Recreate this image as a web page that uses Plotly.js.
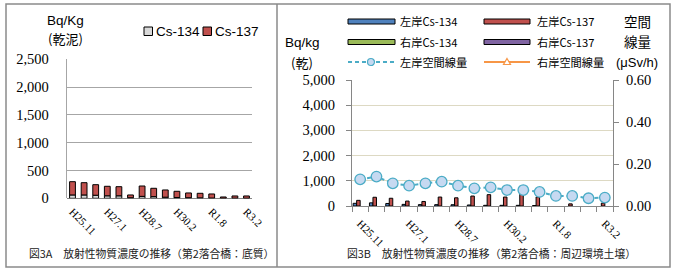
<!DOCTYPE html>
<html>
<head>
<meta charset="utf-8">
<script src="https://cdn.plot.ly/plotly-3.0.1.min.js"></script>
<style>html,body{margin:0;padding:0;background:#fff;}#chart{width:674px;height:270px;}</style>
</head>
<body>
<div id="chart"></div>
<script>
// ---- data ----
const tickIdx = [0, 3, 6, 9, 12, 15];
const tickLabels = ['H25.11', 'H27.1', 'H28.7', 'H30.2', 'R1.8', 'R3.2'];

// Fig 3A (sediment)  Bq/Kg
const sedCs134 = [60, 60, 55, 45, 45, 10, 35, 30, 20, 15, 10, 8, 5, 3, 3, 2];
const sedCs137 = [239, 221, 190, 171, 164, 50, 186, 150, 130, 111, 86, 82, 73, 21, 39, 40];

// Fig 3B (surrounding soil)  Bq/kg
const leftCs134 = [107, 125, 100, 65, 55, 53, 50, 40, 27, 27, 27, 20, null, null, null, null];
const leftCs137 = [225, 347, 307, 195, 180, 355, 325, 395, 450, 355, 470, 360, null, 85, null, 115];
const rightCs134 = [null, null, null, null, null, null, null, null, null, null, null, null, null, null, null, null];
const rightCs137 = [null, null, null, null, null, null, null, null, null, null, null, null, null, null, null, null];
// air dose rate  uSv/h
const leftDose = [0.127, 0.140, 0.108, 0.097, 0.108, 0.116, 0.097, 0.084, 0.089, 0.076, 0.076, 0.067, 0.048, 0.048, 0.037, 0.040];
const rightDose = [null, null, null, null, null, null, null, null, null, null, null, null, null, null, null, null];

// ---- helpers ----
const W = 674, H = 270;
const px = x => x / W;
const py = y => 1 - y / H;
const xs = sedCs134.map((_, i) => i);

const SERIF = '"Liberation Serif", "DejaVu Serif", serif';
const SANS = '"Liberation Sans", Arial, sans-serif';
const CJK = '"Noto Sans CJK JP", "Noto Sans", sans-serif';

const cBlue = '#4f81bd', cRed = '#c0504d', cGreen = '#9bbb59', cPurple = '#8064a2';
const cDose = '#4bacc6', cDoseFill = '#c6d9f1', cOrange = '#f79646';

const traces = [
  // left chart (stacked via base)
  {type: 'bar', x: xs, y: sedCs134, name: 'Cs-134', xaxis: 'x', yaxis: 'y', offsetgroup: 'sed',
   width: 0.5, offset: -0.25, marker: {color: '#d9d9d9', line: {color: '#000', width: 1}}, showlegend: false},
  {type: 'bar', x: xs, y: sedCs137, base: sedCs134, name: 'Cs-137', xaxis: 'x', yaxis: 'y', offsetgroup: 'sed',
   width: 0.5, offset: -0.25, marker: {color: cRed, line: {color: '#000', width: 1}}, showlegend: false},
  // right chart grouped bars
  {type: 'bar', x: xs, y: leftCs134, name: '左岸Cs-134', xaxis: 'x2', yaxis: 'y2',
   marker: {color: cBlue, line: {color: '#000', width: 1}}, showlegend: false},
  {type: 'bar', x: xs, y: leftCs137, name: '左岸Cs-137', xaxis: 'x2', yaxis: 'y2',
   marker: {color: cRed, line: {color: '#000', width: 1}}, showlegend: false},
  {type: 'bar', x: xs, y: rightCs134, name: '右岸Cs-134', xaxis: 'x2', yaxis: 'y2',
   marker: {color: cGreen, line: {color: '#000', width: 1}}, showlegend: false},
  {type: 'bar', x: xs, y: rightCs137, name: '右岸Cs-137', xaxis: 'x2', yaxis: 'y2',
   marker: {color: cPurple, line: {color: '#000', width: 1}}, showlegend: false},
  {type: 'scatter', mode: 'lines+markers', x: xs, y: leftDose, name: '左岸空間線量', xaxis: 'x2', yaxis: 'y3',
   line: {color: cDose, width: 2, dash: '4px,3px'},
   marker: {symbol: 'circle', size: 10.5, color: cDoseFill, line: {color: cDose, width: 1.3}}, showlegend: false},
  {type: 'scatter', mode: 'lines+markers', x: xs, y: rightDose, name: '右岸空間線量', xaxis: 'x2', yaxis: 'y3',
   line: {color: cOrange, width: 2},
   marker: {symbol: 'triangle-up', size: 7, color: '#fff', line: {color: cOrange, width: 1.3}}, showlegend: false}
];

const shapes = [
  {type: 'rect', xref: 'paper', yref: 'paper', x0: px(6), x1: px(670), y0: py(267), y1: py(4),
   line: {color: '#8a8a8a', width: 1.5}},
  {type: 'line', xref: 'paper', yref: 'paper', x0: px(277), x1: px(277), y0: py(267), y1: py(4),
   line: {color: '#8a8a8a', width: 1.5}},
  // left legend boxes
  {type: 'rect', xref: 'paper', yref: 'paper', x0: px(144), x1: px(152.5), y0: py(35.5), y1: py(27),
   fillcolor: '#d9d9d9', line: {color: '#000', width: 1}},
  {type: 'rect', xref: 'paper', yref: 'paper', x0: px(203), x1: px(211.5), y0: py(35.5), y1: py(27),
   fillcolor: cRed, line: {color: '#000', width: 1}},
  // right legend boxes
  {type: 'rect', xref: 'paper', yref: 'paper', x0: px(348), x1: px(395), y0: py(24), y1: py(19),
   fillcolor: cBlue, line: {color: '#000', width: 1}},
  {type: 'rect', xref: 'paper', yref: 'paper', x0: px(484), x1: px(530), y0: py(24), y1: py(19),
   fillcolor: cRed, line: {color: '#000', width: 1}},
  {type: 'rect', xref: 'paper', yref: 'paper', x0: px(348), x1: px(395), y0: py(44.5), y1: py(39.5),
   fillcolor: cGreen, line: {color: '#000', width: 1}},
  {type: 'rect', xref: 'paper', yref: 'paper', x0: px(484), x1: px(530), y0: py(44.5), y1: py(39.5),
   fillcolor: cPurple, line: {color: '#000', width: 1}},
  {type: 'line', xref: 'paper', yref: 'paper', x0: px(348), x1: px(395), y0: py(62), y1: py(62),
   line: {color: cDose, width: 2, dash: '4px,3px'}},
  {type: 'circle', xref: 'paper', yref: 'paper', x0: px(367.5), x1: px(374.5), y0: py(65.5), y1: py(58.5),
   fillcolor: cDoseFill, line: {color: cDose, width: 1.2}},
  {type: 'line', xref: 'paper', yref: 'paper', x0: px(484), x1: px(530), y0: py(62), y1: py(62),
   line: {color: cOrange, width: 2}},
  {type: 'path', xref: 'paper', yref: 'paper',
   path: 'M' + px(507) + ',' + py(58.5) + ' L' + px(510.5) + ',' + py(64.5) + ' L' + px(503.5) + ',' + py(64.5) + ' Z',
   fillcolor: '#fff', line: {color: cOrange, width: 1.2}}
];

function ann(text, x, y, opts) {
  return Object.assign({text: text, xref: 'paper', yref: 'paper', x: px(x), y: py(y), showarrow: false,
    xanchor: 'center', yanchor: 'middle', font: {family: SANS, size: 13, color: '#000'}}, opts || {});
}

const annotations = [
  ann('Bq/Kg', 65, 21, {font: {family: SANS, size: 13.5, color: '#000'}}),
  ann('(乾泥)', 65, 39, {font: {family: CJK, size: 13, color: '#000'}}),
  ann('Cs-134', 154, 31, {xanchor: 'left', font: {family: SANS, size: 13.5, color: '#000'}}),
  ann('Cs-137', 213, 31, {xanchor: 'left', font: {family: SANS, size: 13.5, color: '#000'}}),
  ann('図3A　放射性物質濃度の推移（第2落合橋：底質）', 151, 253, {font: {family: CJK, size: 10.8, color: '#222'}}),

  ann('Bq/kg', 302, 42, {font: {family: SANS, size: 13.5, color: '#000'}}),
  ann('(乾)', 302, 62, {font: {family: CJK, size: 13, color: '#000'}}),
  ann('空間', 637, 21, {font: {family: CJK, size: 13.5, color: '#000'}}),
  ann('線量', 637, 41, {font: {family: CJK, size: 13.5, color: '#000'}}),
  ann('(μSv/h)', 637, 62, {font: {family: SANS, size: 13, color: '#000'}}),
  ann('左岸Cs-134', 398, 21.5, {xanchor: 'left', font: {family: CJK, size: 11.2, color: '#000'}}),
  ann('左岸Cs-137', 535, 21.5, {xanchor: 'left', font: {family: CJK, size: 11.2, color: '#000'}}),
  ann('右岸Cs-134', 398, 42, {xanchor: 'left', font: {family: CJK, size: 11.2, color: '#000'}}),
  ann('右岸Cs-137', 535, 42, {xanchor: 'left', font: {family: CJK, size: 11.2, color: '#000'}}),
  ann('左岸空間線量', 398, 62, {xanchor: 'left', font: {family: CJK, size: 11.2, color: '#000'}}),
  ann('右岸空間線量', 535, 62, {xanchor: 'left', font: {family: CJK, size: 11.2, color: '#000'}}),
  ann('図3B　放射性物質濃度の推移（第2落合橋：周辺環境土壌）', 491, 253, {font: {family: CJK, size: 10.8, color: '#222'}})
];

const layout = {
  width: W, height: H,
  margin: {l: 0, r: 0, t: 0, b: 0},
  paper_bgcolor: '#fff', plot_bgcolor: 'rgba(0,0,0,0)',
  showlegend: false,
  barmode: 'group', bargap: 0.14, bargroupgap: 0,
  xaxis: {domain: [px(66.7), px(252.3)], anchor: 'y', range: [-0.5, 15.5],
    tickmode: 'array', tickvals: tickIdx, ticktext: tickLabels, tickangle: 45,
    tickfont: {family: SERIF, size: 11, color: '#000'}, showgrid: false, zeroline: false,
    showline: false, ticks: '', ticklabelstandoff: 4, fixedrange: true},
  yaxis: {domain: [py(198.3), py(59.3)], anchor: 'x', range: [0, 2500], dtick: 500, tickformat: ',d',
    tickfont: {family: SERIF, size: 14.5, color: '#000'}, gridcolor: '#a6a6a6', gridwidth: 1,
    showline: true, linecolor: '#a6a6a6', linewidth: 1, zeroline: true, zerolinecolor: '#868686', zerolinewidth: 1.2,
    ticks: '', ticklabelstandoff: 14},
  xaxis2: {domain: [px(352), px(613)], anchor: 'y2', range: [-0.5, 15.5],
    tickmode: 'array', tickvals: tickIdx, ticktext: tickLabels, tickangle: 45,
    tickfont: {family: SERIF, size: 11, color: '#000'}, showgrid: false, zeroline: false,
    showline: true, linecolor: '#868686', linewidth: 1, ticks: '', ticklabelstandoff: 6,
    minor: {ticks: 'outside', tick0: -0.5, dtick: 1, ticklen: 5, tickcolor: '#868686', tickwidth: 1, showgrid: false}},
  yaxis2: {domain: [py(206), py(80)], anchor: 'x2', range: [0, 5000], dtick: 1000, tickformat: ',d',
    tickfont: {family: SERIF, size: 14.5, color: '#000'}, gridcolor: '#ddd9c3', gridwidth: 1,
    showline: true, linecolor: '#868686', linewidth: 1, zeroline: false,
    ticks: 'outside', ticklen: 5, tickcolor: '#868686', ticklabelstandoff: 8},
  yaxis3: {overlaying: 'y2', side: 'right', anchor: 'x2', range: [0, 0.6], dtick: 0.2, tickformat: '.2f',
    tickfont: {family: SERIF, size: 14.5, color: '#000'}, showgrid: false,
    showline: true, linecolor: '#868686', linewidth: 1, zeroline: false,
    ticks: 'outside', ticklen: 5, tickcolor: '#868686', ticklabelstandoff: 4},
  shapes: shapes,
  annotations: annotations
};

Plotly.newPlot('chart', traces, layout, {displayModeBar: false, staticPlot: true});
</script>
</body>
</html>
